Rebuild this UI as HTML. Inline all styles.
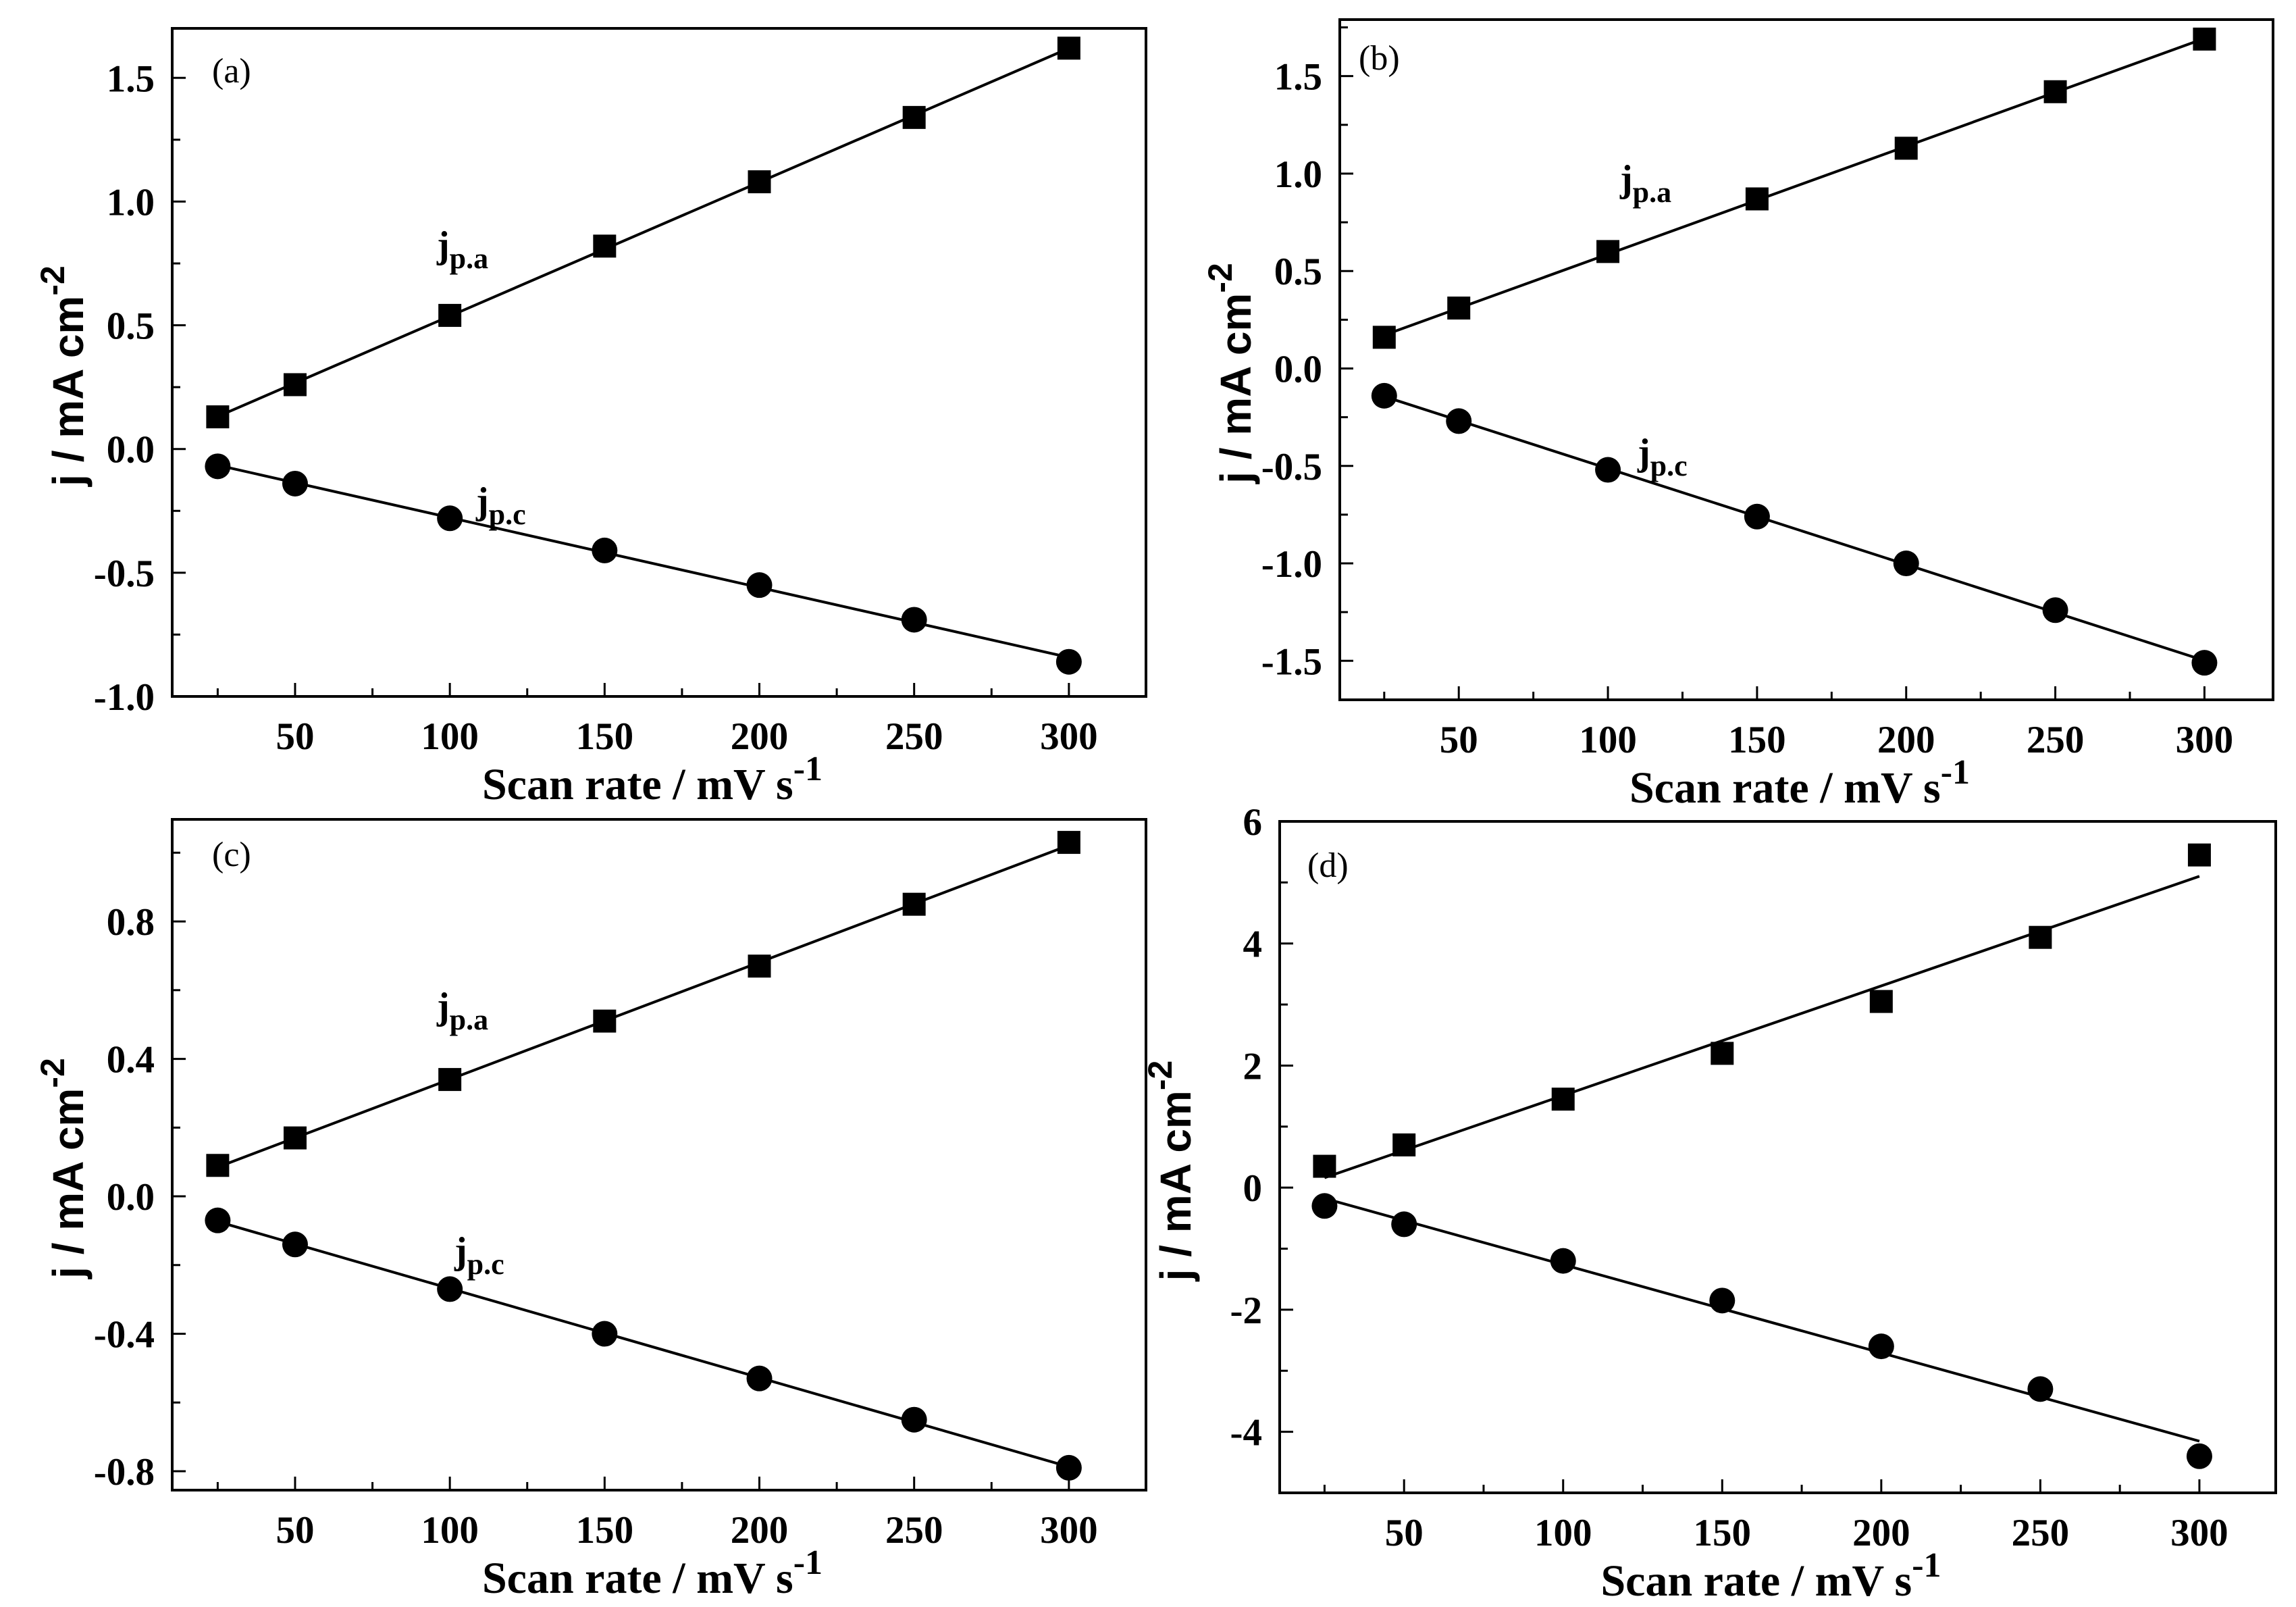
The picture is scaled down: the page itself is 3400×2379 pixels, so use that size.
<!DOCTYPE html>
<html><head><meta charset="utf-8"><style>
html,body{margin:0;padding:0;background:#fff;}
svg{display:block;}
</style></head><body>
<svg id="fig" width="3400" height="2379" viewBox="0 0 3400 2379" xmlns="http://www.w3.org/2000/svg"></svg>
<script>
const scanRates = [25, 50, 100, 150, 200, 250, 300];
const xTicks = [50, 100, 150, 200, 250, 300];
const aAnodic = [0.13, 0.26, 0.54, 0.82, 1.08, 1.34, 1.62];
const aCathodic = [-0.07, -0.14, -0.28, -0.41, -0.55, -0.69, -0.86];
const aYTicks = [-1.0, -0.5, 0.0, 0.5, 1.0, 1.5];
const bAnodic = [0.16, 0.31, 0.60, 0.87, 1.13, 1.42, 1.69];
const bCathodic = [-0.14, -0.27, -0.52, -0.76, -1.00, -1.24, -1.51];
const bYTicks = [-1.5, -1.0, -0.5, 0.0, 0.5, 1.0, 1.5];
const cAnodic = [0.09, 0.17, 0.34, 0.51, 0.67, 0.85, 1.03];
const cCathodic = [-0.07, -0.14, -0.27, -0.40, -0.53, -0.65, -0.79];
const cYTicks = [-0.8, -0.4, 0.0, 0.4, 0.8];
const dAnodic = [0.35, 0.70, 1.45, 2.20, 3.05, 4.10, 5.45];
const dCathodic = [-0.30, -0.60, -1.20, -1.85, -2.60, -3.30, -4.40];
const dYTicks = [-4, -2, 0, 2, 4, 6];

const NS = 'http://www.w3.org/2000/svg';
const svg = document.getElementById('fig');
function mk(tag, attrs, parent, text) {
  const e = document.createElementNS(NS, tag);
  for (const k in attrs) e.setAttribute(k, attrs[k]);
  if (text !== undefined) e.textContent = text;
  parent.appendChild(e);
  return e;
}
function fit(xs, ys) {
  const n = xs.length; let sx=0, sy=0, sxx=0, sxy=0;
  for (let i=0;i<n;i++){sx+=xs[i];sy+=ys[i];sxx+=xs[i]*xs[i];sxy+=xs[i]*ys[i];}
  const m = (n*sxy - sx*sy)/(n*sxx - sx*sx);
  return {m:m, b:(sy - m*sx)/n};
}
const serif = '"Liberation Serif", serif';
const sans = '"Liberation Sans", sans-serif';

function panel(p) {
  const g = mk('g', {}, svg);
  
  
  const X = v => p.L + (v - p.xmin) / (p.xmax - p.xmin) * (p.R - p.L);
  const Y = v => p.B - (v - p.ymin) / (p.ymax - p.ymin) * (p.B - p.T);
  const frame = mk('rect', {x:p.L, y:p.T, width:p.R-p.L, height:p.B-p.T, fill:'none', stroke:'#000', 'stroke-width':4}, g);
  
  
  for (let v = 25; v <= 300; v += 25) {
    const major = v % 50 === 0;
    const t = mk('line', {x1:X(v), x2:X(v), y1:p.B, y2:p.B-(major?20:12), stroke:'#000','stroke-width':3}, g);
    
    
  }
  xTicks.forEach(v => {
    const t = mk('text', {x:X(v), y:p.B+78, 'text-anchor':'middle', 'font-family':serif, 'font-weight':'bold', 'font-size':57}, g, String(v));
    
    
  });
  const yt = p.yTicks;
  const step = yt[1]-yt[0];
  for (let i = 0; i < yt.length; i++) {
    const t = mk('line', {x1:p.L, x2:p.L+20, y1:Y(yt[i]), y2:Y(yt[i]), stroke:'#000','stroke-width':3}, g);
    
    
    const mv = yt[i] + step/2;
    if (Y(mv) > p.T + 2) {
      const m = mk('line', {x1:p.L, x2:p.L+12, y1:Y(mv), y2:Y(mv), stroke:'#000','stroke-width':3}, g);
      
      
    }
    const mv2 = yt[0] - step/2;
    if (i===0 && Y(mv2) < p.B - 2) {
      const m2 = mk('line', {x1:p.L, x2:p.L+12, y1:Y(mv2), y2:Y(mv2), stroke:'#000','stroke-width':3}, g);
      
      
    }
    const l = mk('text', {x:p.L-26, y:Y(yt[i])+20, 'text-anchor':'end', 'font-family':serif, 'font-weight':'bold', 'font-size':57}, g, yt[i].toFixed(p.dec));
    
    
  }
  const xt = mk('text', {x:(p.L+p.R)/2 - 10, y:p.B+152, 'text-anchor':'middle', 'font-family':serif, 'font-weight':'bold', 'font-size':66}, g);
  
  
  mk('tspan', {}, xt, 'Scan rate / mV s');
  mk('tspan', {dy:-28, 'font-size':52}, xt, '-1');
  const cy = (p.T+p.B)/2 + 20;
  const ytl = mk('text', {x:0, y:0, transform:'translate('+(p.L-132)+','+cy+') rotate(-90)', 'text-anchor':'middle', 'font-family':sans, 'font-weight':'bold', 'font-size':64}, g);
  
  
  mk('tspan', {}, ytl, 'j / mA cm');
  mk('tspan', {dy:-28, 'font-size':50}, ytl, '-2');
  const pl = mk('text', {x:p.lab[0], y:p.lab[1]+18, 'font-family':serif, 'font-size':52}, g, '('+p.id+')');
  
  
  [['anodic', p.an], ['cathodic', p.ca]].forEach(([nm, ys]) => {
    const f = fit(scanRates, ys);
    const ln = mk('line', {x1:X(25), y1:Y(f.m*25+f.b), x2:X(300), y2:Y(f.m*300+f.b), stroke:'#000','stroke-width':4}, g);
    
    
    scanRates.forEach((x, i) => {
      let m;
      if (nm === 'anodic') m = mk('rect', {x:X(x)-17, y:Y(ys[i])-17, width:34, height:34, fill:'#000'}, g);
      else m = mk('circle', {cx:X(x), cy:Y(ys[i]), r:19, fill:'#000'}, g);
      
      
    });
  });
  if (p.ja) {
    [['ja', 'a', 'anodic-label'], ['jc', 'c', 'cathodic-label']].forEach(([k, s, nm]) => {
      const t = mk('text', {x:p[k][0]-25, y:p[k][1]+12, 'font-family':serif, 'font-weight':'bold', 'font-size':56}, g);
      
      
      mk('tspan', {}, t, 'j');
      mk('tspan', {dy:16, 'font-size':44}, t, 'p.' + s);
    });
  }
}

panel({id:'a', L:255, R:1697, T:42, B:1031, xmin:10.3, xmax:324.9, ymin:-1.0, ymax:1.70, yTicks:aYTicks, dec:1, an:aAnodic, ca:aCathodic, lab:[314,104], ja:[672,369], jc:[730,748]});
panel({id:'b', L:1984, R:3366, T:29, B:1036, xmin:10.1, xmax:323, ymin:-1.70, ymax:1.79, yTicks:bYTicks, dec:1, an:bAnodic, ca:bCathodic, lab:[2012,85], ja:[2424,271], jc:[2450,676]});
panel({id:'c', L:255, R:1697, T:1213, B:2206, xmin:10.3, xmax:324.9, ymin:-0.855, ymax:1.097, yTicks:cYTicks, dec:1, an:cAnodic, ca:cCathodic, lab:[314,1264], ja:[672,1496], jc:[698,1858]});
panel({id:'d', L:1895, R:3370, T:1216, B:2210, xmin:10.9, xmax:324, ymin:-5.0, ymax:6.0, yTicks:dYTicks, dec:0, an:dAnodic, ca:dCathodic, lab:[1936,1280]});
</script>
</body></html>
